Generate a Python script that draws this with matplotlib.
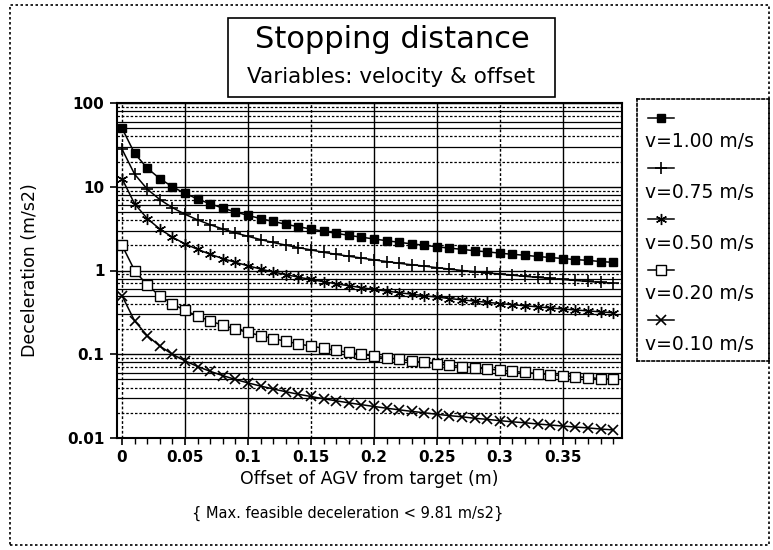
import matplotlib.pyplot as plt
from matplotlib.patches import Rectangle
from matplotlib.ticker import FixedLocator, LogLocator, NullFormatter, FuncFormatter

# offset of AGV from target (m), one category per cm
offsets = [0.00, 0.01, 0.02, 0.03, 0.04, 0.05, 0.06, 0.07, 0.08, 0.09,
           0.10, 0.11, 0.12, 0.13, 0.14, 0.15, 0.16, 0.17, 0.18, 0.19,
           0.20, 0.21, 0.22, 0.23, 0.24, 0.25, 0.26, 0.27, 0.28, 0.29,
           0.30, 0.31, 0.32, 0.33, 0.34, 0.35, 0.36, 0.37, 0.38, 0.39]

v100 = [50, 25, 16.7, 12.5, 10, 8.33, 7.14, 6.25, 5.56, 5,
        4.55, 4.17, 3.85, 3.57, 3.33, 3.13, 2.94, 2.78, 2.63, 2.5,
        2.38, 2.27, 2.17, 2.08, 2, 1.92, 1.85, 1.79, 1.72, 1.67,
        1.61, 1.56, 1.52, 1.47, 1.43, 1.39, 1.35, 1.32, 1.28, 1.25]
v075 = [28.1, 14.1, 9.38, 7.03, 5.63, 4.69, 4.02, 3.52, 3.13, 2.81,
        2.56, 2.34, 2.16, 2.01, 1.88, 1.76, 1.65, 1.56, 1.48, 1.41,
        1.34, 1.28, 1.22, 1.17, 1.13, 1.08, 1.04, 1.00, 0.970, 0.938,
        0.907, 0.879, 0.852, 0.827, 0.804, 0.781, 0.760, 0.740, 0.721, 0.703]
v050 = [12.5, 6.25, 4.17, 3.13, 2.5, 2.08, 1.79, 1.56, 1.39, 1.25,
        1.14, 1.04, 0.962, 0.893, 0.833, 0.781, 0.735, 0.694, 0.658, 0.625,
        0.595, 0.568, 0.543, 0.521, 0.5, 0.481, 0.463, 0.446, 0.431, 0.417,
        0.403, 0.391, 0.379, 0.368, 0.357, 0.347, 0.338, 0.329, 0.321, 0.313]
v020 = [2, 1, 0.667, 0.5, 0.4, 0.333, 0.286, 0.25, 0.222, 0.2,
        0.182, 0.167, 0.154, 0.143, 0.133, 0.125, 0.118, 0.111, 0.105, 0.1,
        0.0952, 0.0909, 0.087, 0.0833, 0.08, 0.0769, 0.0741, 0.0714, 0.069, 0.0667,
        0.0645, 0.0625, 0.0606, 0.0588, 0.0571, 0.0556, 0.0541, 0.0526, 0.0513, 0.05]
v010 = [0.5, 0.25, 0.167, 0.125, 0.1, 0.0833, 0.0714, 0.0625, 0.0556, 0.05,
        0.0455, 0.0417, 0.0385, 0.0357, 0.0333, 0.0313, 0.0294, 0.0278, 0.0263, 0.025,
        0.0238, 0.0227, 0.0217, 0.0208, 0.02, 0.0192, 0.0185, 0.0179, 0.0172, 0.0167,
        0.0161, 0.0156, 0.0152, 0.0147, 0.0143, 0.0139, 0.0135, 0.0132, 0.0128, 0.0125]

labels = ["v=1.00 m/s", "v=0.75 m/s", "v=0.50 m/s", "v=0.20 m/s", "v=0.10 m/s"]
xticks = [0, 0.05, 0.1, 0.15, 0.2, 0.25, 0.3, 0.35]
xticklabels = ["0", "0.05", "0.1", "0.15", "0.2", "0.25", "0.3", "0.35"]

series = [v100, v075, v050, v020, v010]
styles = [
    dict(marker="s", ms=6, mfc="black", mec="black"),
    dict(marker="+", ms=8, mew=1.2),
    dict(marker=(6, 2, 0), ms=8, mew=1.0),
    dict(marker="s", ms=7, mfc="white", mec="black", mew=1.0),
    dict(marker="x", ms=7, mew=1.2),
]

W, H = 773, 550
fig = plt.figure(figsize=(W / 100, H / 100), dpi=100)
fig.patch.set_facecolor("white")

# outer dotted border
fig.add_artist(Rectangle((10 / W, 5 / H), 759 / W, 540 / H, transform=fig.transFigure,
                         fill=False, ec="black", lw=1.2, ls=(0, (1.5, 1.5))))

ax = fig.add_axes([117 / W, (H - 438) / H, (622 - 117) / W, (438 - 103) / H])
for s, st in zip(series, styles):
    ax.plot(offsets, s, color="black", lw=1.1, **st)

ax.set_yscale("log")
ax.set_ylim(0.01, 100)
ax.set_xlim(-0.004, 0.397)

ax.set_xticks(xticks)
ax.set_xticklabels(xticklabels)
ax.xaxis.set_minor_locator(FixedLocator(offsets))
ax.yaxis.set_major_formatter(FuncFormatter(lambda v, p: f"{v:g}"))
ax.yaxis.set_minor_locator(LogLocator(base=10, subs=range(2, 10)))
ax.yaxis.set_minor_formatter(NullFormatter())
ax.tick_params(axis="both", which="major", direction="out", length=5, width=1.2,
               labelsize=11, pad=4)
ax.tick_params(axis="x", which="minor", direction="out", length=4, width=1)
ax.tick_params(axis="y", which="minor", length=0)
for lab in ax.get_xticklabels() + ax.get_yticklabels():
    lab.set_fontweight("bold")

# grid lines
for i, xv in enumerate(xticks):
    ax.axvline(xv, color="black", lw=1.0, ls=(0, (2, 1.5)) if i % 3 == 0 else "-", zorder=0)
for yv in ax.yaxis.get_majorticklocs():
    ax.axhline(yv, color="black", lw=1.0, zorder=0)
for yv in ax.yaxis.get_minorticklocs():
    m = round(yv / 10 ** round(float(f"{yv:e}".split("e")[1])))
    ls = "-" if m in (3, 5, 6, 8) else (0, (2, 1.5))
    ax.axhline(yv, color="black", lw=0.9, ls=ls, zorder=0)

for sp in ax.spines.values():
    sp.set_linewidth(1.5)

ax.set_ylabel("Deceleration (m/s2)", fontsize=12.5, labelpad=20)
ax.set_xlabel("Offset of AGV from target (m)", fontsize=12.5, labelpad=3)

fig.text(348 / W, 1 - 513 / H, "{ Max. feasible deceleration < 9.81 m/s2}",
         ha="center", va="center", fontsize=10.5)

# title box
fig.add_artist(Rectangle((228 / W, 1 - 97 / H), 327 / W, 79 / H, transform=fig.transFigure,
                         fill=False, ec="black", lw=1.2))
fig.text(392 / W, 1 - 40 / H, "Stopping distance", ha="center", va="center", fontsize=22)
fig.text(391 / W, 1 - 77 / H, "Variables: velocity & offset", ha="center", va="center",
         fontsize=15.5)

# legend box: sample line (one marker) above each label
lax = fig.add_axes([637 / W, 1 - 361 / H, 132 / W, 262 / H])
lax.set_xlim(0, 1)
lax.set_ylim(0, 1)
lax.set_xticks([])
lax.set_yticks([])
for sp in lax.spines.values():
    sp.set_linestyle((0, (1.5, 1.5)))
    sp.set_linewidth(1.2)
step = 0.193
for i, (lab, st) in enumerate(zip(labels, styles)):
    ys = 0.928 - i * step
    lax.plot([0.08, 0.18, 0.28], [ys, ys, ys], color="black", lw=1.1, markevery=[1], **st)
    lax.text(0.06, ys - 0.092, lab, ha="left", va="center", fontsize=13.5)

fig.savefig("out.png", dpi=100)
